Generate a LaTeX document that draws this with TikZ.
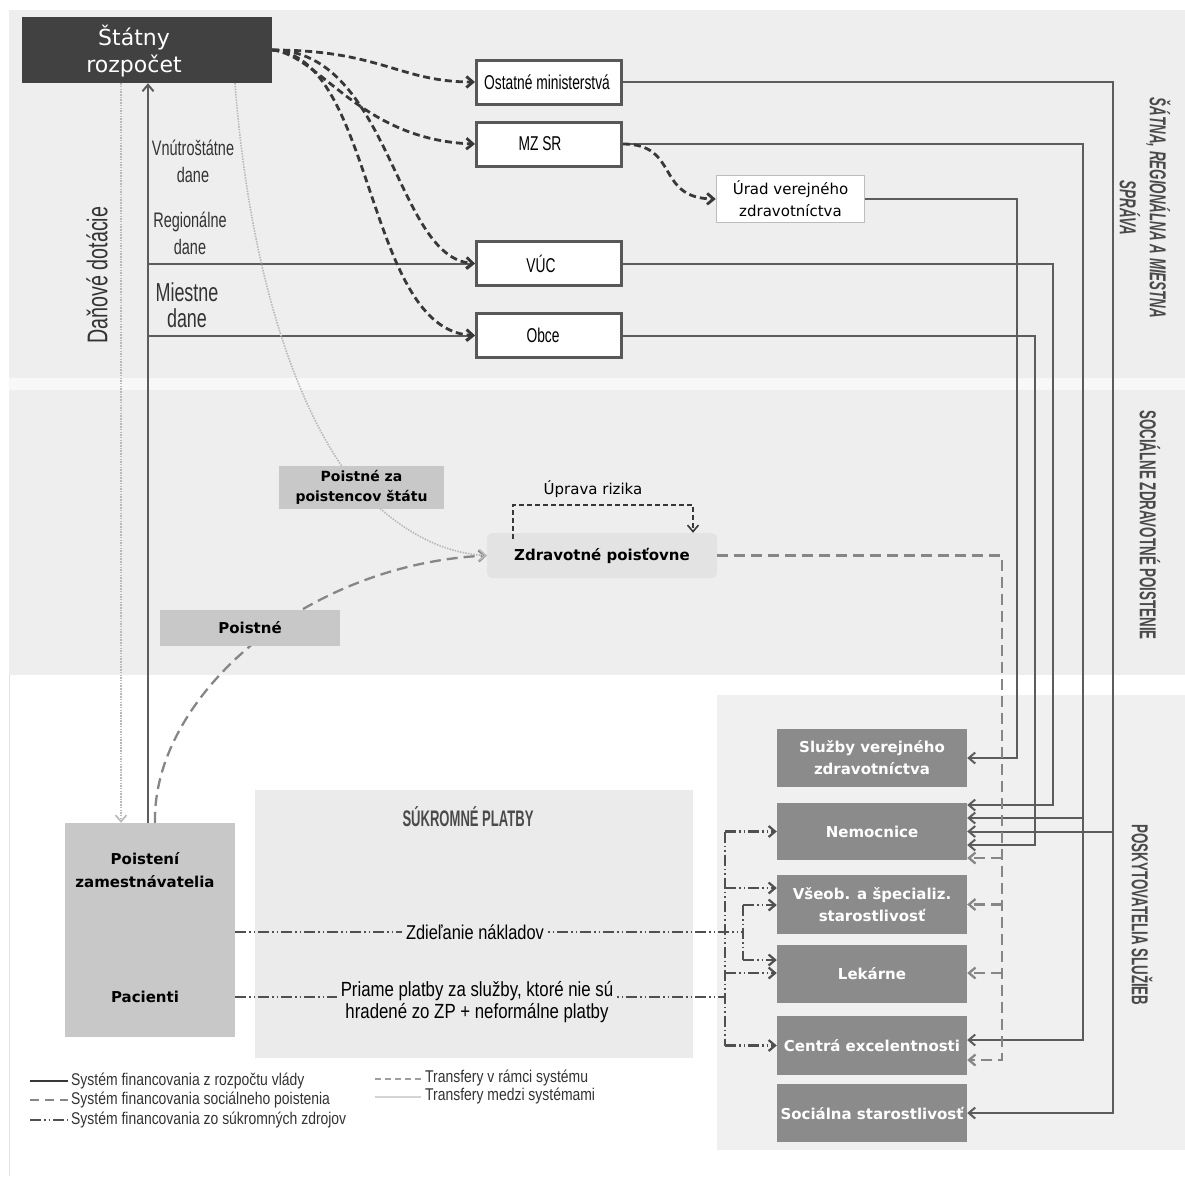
\documentclass[tikz,border=0pt]{standalone}
\usepackage{fontspec}
\setmainfont{DejaVu Sans}
\newfontfamily\nrw[FakeStretch=0.82]{Liberation Sans}
\newfontfamily\cnd[FakeStretch=0.69]{Liberation Sans}
\newfontfamily\capsf[FakeStretch=0.58]{Liberation Sans}
\usetikzlibrary{arrows.meta}

\definecolor{bandbg}{HTML}{EEEEEE}
\definecolor{stripbg}{HTML}{F8F8F8}
\definecolor{edgeline}{HTML}{E2E2E2}
\definecolor{darkbox}{HTML}{414141}
\definecolor{boxedge}{HTML}{585858}
\definecolor{lightedge}{HTML}{BDBDBD}
\definecolor{govline}{HTML}{5C5C5C}
\definecolor{transfer}{HTML}{383838}
\definecolor{insline}{HTML}{868686}
\definecolor{crossline}{HTML}{B9B9B9}
\definecolor{privline}{HTML}{505050}
\definecolor{midbox}{HTML}{C8C8C8}
\definecolor{zpbox}{HTML}{E3E3E3}
\definecolor{provbox}{HTML}{8B8B8B}
\definecolor{provbg}{HTML}{F0F0F0}
\definecolor{privbg}{HTML}{EBEBEB}
\definecolor{labeltext}{HTML}{333333}
\definecolor{headtext}{HTML}{4A4A4A}

\begin{document}
\begin{tikzpicture}[x=1pt,y=-1pt,
  govbox/.style={draw=boxedge, line width=3pt, fill=white, minimum width=145, minimum height=44,
    inner sep=0pt, text=black, font=\cnd\fontsize{20}{22}\selectfont},
  provnode/.style={fill=provbox, minimum width=190, inner sep=0pt, text=white, align=center,
    font=\bfseries\fontsize{15}{22}\selectfont},
  graynode/.style={fill=midbox, inner sep=0pt, align=center, text=black,
    font=\bfseries\fontsize{14}{20}\selectfont},
  tip/.style={-{Straight Barb[length=6.5pt,width=11pt]}},
  gov/.style={draw=govline, line width=2pt},
  transf/.style={draw=transfer, line width=2.8pt, dash pattern=on 7pt off 4pt},
  ins/.style={draw=insline, line width=2.3pt, dash pattern=on 11pt off 6pt},
  cross/.style={draw=crossline, line width=1.6pt, dash pattern=on 1.5pt off 1.2pt},
  priv/.style={draw=privline, line width=2.2pt, dash pattern=on 11pt off 3pt on 1.5pt off 3pt on 1.5pt off 3pt},
  bracket/.style={draw=transfer, line width=1.6pt, dash pattern=on 5pt off 3pt},
  sidelabel/.style={font=\cnd\fontsize{21}{27}\selectfont, text=labeltext, align=center},
  tierlabel/.style={rotate=-90, align=center, text=headtext, font=\capsf\bfseries\fontsize{23}{30}\selectfont},
  legtext/.style={anchor=west, inner sep=0pt, text=labeltext, font=\nrw\fontsize{17}{20}\selectfont},
]
\useasboundingbox (0,0) rectangle (1185,1176);
\fill[white] (0,0) rectangle (1185,1176);

% tiers of the financing system
\fill[bandbg] (9,10) rectangle (1185,378);
\fill[stripbg] (9,378) rectangle (1185,390);
\fill[bandbg] (9,390) rectangle (1185,675);
\draw[edgeline, line width=0.8pt] (9,675) -- (9,1176);
\fill[provbg] (717,695) rectangle (1185,1150);
\fill[privbg] (255,790) rectangle (693,1058);

% tier headings
\node[tierlabel, font=\capsf\bfseries\itshape\fontsize{23}{30}\selectfont] (tier1) at (1145,208) {ŠÁTNA, REGIONÁLNA A MIESTNA\\SPRÁVA};
\node[tierlabel] (tier2) at (1150,525) {SOCIÁLNE ZDRAVOTNÉ POISTENIE};
\node[tierlabel] (tier3) at (1142,915) {POSKYTOVATELIA SLUŽIEB};
\node[text=headtext, font=\capsf\bfseries\fontsize{22.5}{24}\selectfont] (privhead) at (468,817) {SÚKROMNÉ PLATBY};

% state and public administration
\node[fill=darkbox, minimum width=250, minimum height=66, inner sep=0pt] (sr) at (147,50) {};
\node[text=white, align=center, font=\fontsize{22}{27}\selectfont] (srtext) at (134,51) {Štátny\\rozpočet};
\node[govbox] (om) at (549,82) {\hspace*{-4pt}Ostatné ministerstvá};
\node[govbox] (mz) at (549,144) {\hspace*{-18pt}MZ SR};
\node[govbox] (vuc) at (549,263.5) {\hspace*{-16pt}VÚC};
\node[govbox] (obce) at (549,335.5) {\hspace*{-12pt}Obce};
\node[draw=lightedge, line width=1.5pt, fill=white, minimum width=148, minimum height=47, inner sep=0pt,
  align=center, font=\fontsize{15}{22}\selectfont] (urad) at (790.5,199) {Úrad verejného\\zdravotníctva};

% insurers and payers
\node[fill=zpbox, rounded corners=5pt, minimum width=230, minimum height=45, inner sep=0pt,
  font=\bfseries\fontsize{15}{18}\selectfont] (zp) at (602,555.5) {Zdravotné poisťovne};
\node[fill=midbox, minimum width=170, minimum height=214, inner sep=0pt] (pz) at (150,930) {};
\node[align=center, font=\bfseries\fontsize{15}{23}\selectfont] (pztext) at (145,870) {Poistení\\zamestnávatelia};
\node[font=\bfseries\fontsize{15}{20}\selectfont] (pactext) at (145,997) {Pacienti};

% providers
\node[provnode, minimum height=58] (sluzby) at (872,758) {Služby verejného\\zdravotníctva};
\node[provnode, minimum height=57] (nem) at (872,831.5) {Nemocnice};
\node[provnode, minimum height=59] (vseob) at (872,904.5) {Všeob. a špecializ.\\starostlivosť};
\node[provnode, minimum height=58] (lek) at (872,974) {Lekárne};
\node[provnode, minimum height=59] (centra) at (872,1045.5) {Centrá excelentnosti};
\node[provnode, minimum height=58] (soc) at (872,1113) {Sociálna starostlivosť};

% tax labels
\node[sidelabel] (lbnat) at (193,161) {Vnútroštátne\\dane};
\node[sidelabel] (lbreg) at (190,233.5) {Regionálne\\dane};
\node[sidelabel, font=\cnd\fontsize{26}{26}\selectfont] (lbloc) at (187,305.5) {Miestne\\dane};
\node[rotate=90, text=labeltext, font=\cnd\fontsize{28.5}{30}\selectfont] (lbdot) at (97,275) {Daňové dotácie};

% anchor columns of the routed lines
\coordinate (xdot) at (121,0);
\coordinate (xtax) at (148,0);
\coordinate (xins) at (155,0);
\coordinate (xom) at (1113,0);
\coordinate (xmz) at (1083,0);
\coordinate (xvuc) at (1053,0);
\coordinate (xob) at (1035,0);
\coordinate (xur) at (1017,0);
\coordinate (xzp) at (1002,0);
\coordinate (xp1) at (725,0);
\coordinate (xp2) at (743,0);
\coordinate (srgray) at ([xshift=88pt]sr.south);

% entry points on the providers
\coordinate (n1) at ([yshift=26.5pt]nem.east);
\coordinate (n2) at ([yshift=13.5pt]nem.east);
\coordinate (n3) at (nem.east);
\coordinate (n4) at ([yshift=-13.5pt]nem.east);
\coordinate (n5) at ([yshift=-26.5pt]nem.east);
\coordinate (c1) at ([yshift=5.5pt]centra.east);
\coordinate (c2) at ([yshift=-14.5pt]centra.east);
\coordinate (vr) at (vseob.east);
\coordinate (lr) at ([yshift=1pt]lek.east);
\coordinate (nl) at (nem.west);
\coordinate (v1) at ([yshift=16.5pt]vseob.west);
\coordinate (v2) at ([yshift=-0.5pt]vseob.west);
\coordinate (l1) at ([yshift=14pt]lek.west);
\coordinate (l2) at ([yshift=1pt]lek.west);
\coordinate (cl) at (centra.west);
\coordinate (pzA) at ([yshift=-2pt]pz.east);
\coordinate (pzB) at ([yshift=-67pt]pz.east);

% government budget flows
\draw[gov,tip] (pz.north -| xtax) -- (sr.south -| xtax);
\draw[gov,tip] (vuc.west -| xtax) -- (vuc.west);
\draw[gov,tip] (obce.west -| xtax) -- (obce.west);
\draw[gov,tip] (om.east) -| (xom |- soc.east) -- (soc.east);
\draw[gov,tip] (xom |- n3) -- (n3);
\draw[gov,tip] (mz.east) -| (xmz |- c1) -- (c1);
\draw[gov,tip] (xmz |- n2) -- (n2);
\draw[gov,tip] (urad.east) -| (xur |- sluzby.east) -- (sluzby.east);
\draw[gov,tip] (vuc.east) -| (xvuc |- n1) -- (n1);
\draw[gov,tip] (obce.east) -| (xob |- n4) -- (n4);

% transfers inside the public system
\draw[transf,tip] (sr.east) .. controls (380,50) and (400,82) .. (om.west);
\draw[transf,tip] (sr.east) .. controls (320,55) and (360,140) .. (mz.west);
\draw[transf,tip] (sr.east) .. controls (390,50) and (395,258) .. (vuc.west);
\draw[transf,tip] (sr.east) .. controls (375,55) and (365,330) .. (obce.west);
\draw[transf,tip] (mz.east) .. controls (680,144) and (655,198) .. (urad.west);

% social health insurance
\draw[ins,tip] (zp.east) -| (xzp |- c2) -- (c2);
\draw[ins,tip] (xzp |- n5) -- (n5);
\draw[ins,tip] (xzp |- vr) -- (vr);
\draw[ins,tip] (xzp |- lr) -- (lr);
\draw[ins,tip] (pz.north -| xins) .. controls (152,700) and (300,565) .. (zp.west);
\coordinate (uprL) at ([xshift=-89pt,yshift=-6pt]zp.north);
\coordinate (uprR) at ([xshift=91pt]zp.north);
\coordinate (uprtop) at (600,505);
\draw[bracket,tip] (uprL) |- (uprtop) -| (uprR);
\node[font=\fontsize{15}{18}\selectfont] (uprtext) at (593,489) {Úprava rizika};

% flows between systems
\draw[cross,tip] (sr.south -| xdot) -- (pz.north -| xdot);
\draw[cross,tip] (srgray) .. controls (250,280) and (300,420) .. (360,490)
  .. controls (400,530) and (440,553) .. (zp.west);
\node[graynode, minimum width=165, minimum height=43] (pzs) at (361.5,487.5) {Poistné za\\poistencov štátu};
\node[graynode, minimum width=180, minimum height=36, font=\bfseries\fontsize{15}{20}\selectfont] (pst) at (250,628) {Poistné};

% private payments
\draw[priv] (pzA) -- (xp2 |- pzA);
\draw[priv] (xp2 |- v2) -- (xp2 |- l1);
\draw[priv,tip] (xp2 |- v2) -- (v2);
\draw[priv,tip] (xp2 |- l1) -- (l1);
\draw[priv] (pzB) -- (xp1 |- pzB);
\draw[priv] (xp1 |- nl) -- (xp1 |- cl);
\draw[priv,tip] (xp1 |- nl) -- (nl);
\draw[priv,tip] (xp1 |- v1) -- (v1);
\draw[priv,tip] (xp1 |- l2) -- (l2);
\draw[priv,tip] (xp1 |- cl) -- (cl);
\node[fill=privbg, inner xsep=4pt, inner ysep=2pt, font=\nrw\fontsize{20}{22}\selectfont] (zdl) at (475,932) {Zdieľanie nákladov};
\node[fill=privbg, inner xsep=4pt, inner ysep=1pt, align=center, font=\nrw\fontsize{20.5}{22}\selectfont] (prm) at (477,1002) {Priame platby za služby, ktoré nie sú\\hradené zo ZP + neformálne platby};

% legend
\coordinate (la1) at (30,1081); \coordinate (lb1) at (68,1081);
\coordinate (la2) at (30,1100); \coordinate (lb2) at (68,1100);
\coordinate (la3) at (30,1120); \coordinate (lb3) at (68,1120);
\coordinate (la4) at (375,1079); \coordinate (lb4) at (421,1079);
\coordinate (la5) at (375,1097); \coordinate (lb5) at (421,1097);
\draw[draw=transfer, line width=2pt] (la1) -- (lb1);
\draw[draw=insline, line width=2.5pt, dash pattern=on 9pt off 6pt] (la2) -- (lb2);
\draw[priv] (la3) -- (lb3);
\draw[draw=insline!80, line width=1.6pt, dash pattern=on 6pt off 4pt] (la4) -- (lb4);
\draw[draw=crossline!60, line width=1.6pt] (la5) -- (lb5);
\node[legtext] (lt1) at (71,1081) {Systém financovania z rozpočtu vlády};
\node[legtext] (lt2) at (71,1100) {Systém financovania sociálneho poistenia};
\node[legtext] (lt3) at (71,1120) {Systém financovania zo súkromných zdrojov};
\node[legtext] (lt4) at (425,1078) {Transfery v rámci systému};
\node[legtext] (lt5) at (425,1096) {Transfery medzi systémami};
\end{tikzpicture}
\end{document}
